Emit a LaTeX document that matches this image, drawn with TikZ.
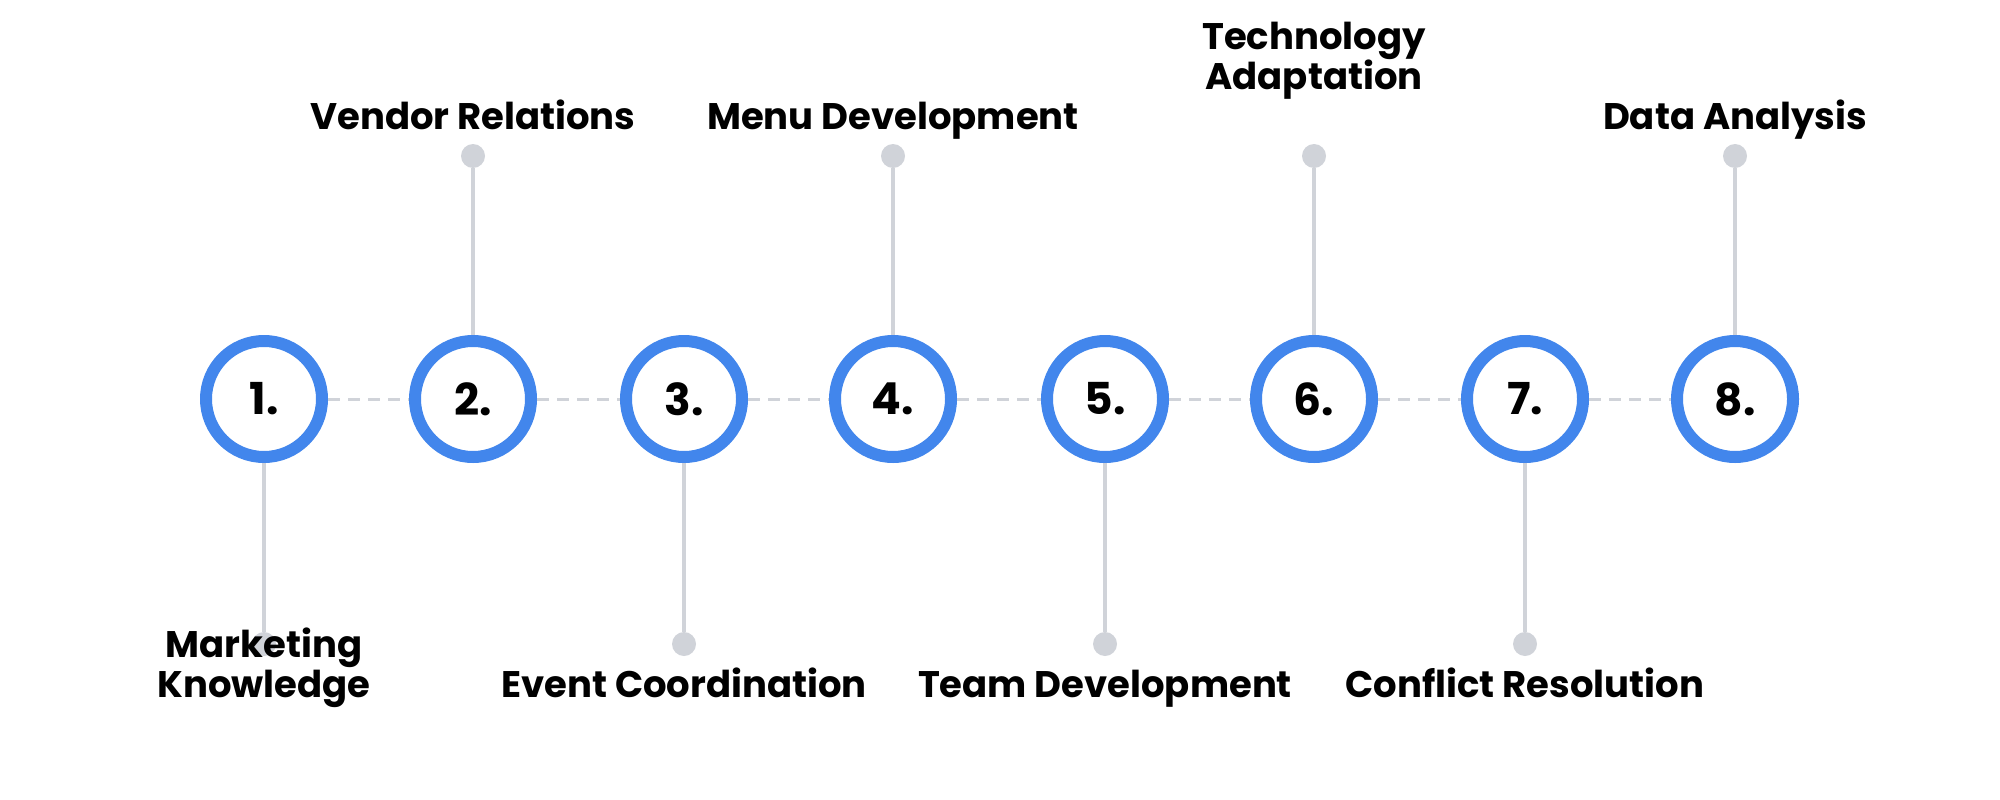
\documentclass[tikz,border=0pt]{standalone}
\usepackage{fontspec}
\setmainfont{Poppins}
\usetikzlibrary{positioning}
\definecolor{ringblue}{HTML}{4286EC}
\definecolor{stemgray}{HTML}{D0D3D9}
\begin{document}
\begin{tikzpicture}[x=1pt,y=-1pt]
\tikzset{step circle/.style = {shape=circle,draw=ringblue,line width=12pt,fill=white,minimum size=116pt,font=\fontsize{44}{44}\selectfont\bfseries}}
\tikzset{stem/.style = {draw=stemgray,line width=4pt}}
\tikzset{dot/.style = {shape=circle,fill=stemgray,minimum size=24pt,inner sep=0pt}}
\tikzset{label/.style = {align=center,inner sep=0pt,anchor=base,font=\fontsize{37}{40}\selectfont\bfseries}}
\useasboundingbox (0,0) rectangle (2000,800);
% circles
\foreach \i/\x in {1/264,2/473,3/684,4/893,5/1105,6/1314,7/1525,8/1735}
  \node[step circle] (c\i) at (\x,399) {\i.};
% dashed links
\foreach \a/\b in {1/2,2/3,3/4,4/5,5/6,6/7,7/8}
  \draw[stemgray,line width=3pt,dash pattern=on 12pt off 8pt] (c\a) -- (c\b);
% top stems
\foreach \i/\x in {2/473,4/893,6/1314,8/1735} {
  \node[dot] (d\i) at (\x,156) {};
  \draw[stem] (d\i) -- (c\i);
}
% bottom stems
\foreach \i/\x in {1/264,3/684,5/1105,7/1525} {
  \node[dot] (d\i) at (\x,644) {};
  \draw[stem] (d\i) -- (c\i);
}
% labels
\node[label] (l2) at (473,129) {Vendor Relations};
\node[label] (l4) at (893,129) {Menu Development};
\node[label] (l6) at (1314,89) {Technology\\Adaptation};
\node[label] (l8) at (1735,129) {Data Analysis};
\node[label] (l1) at (264,697) {Marketing\\Knowledge};
\node[label] (l3) at (684,697) {Event Coordination};
\node[label] (l5) at (1105,697) {Team Development};
\node[label] (l7) at (1525,697) {Conflict Resolution};
\end{tikzpicture}
\end{document}
